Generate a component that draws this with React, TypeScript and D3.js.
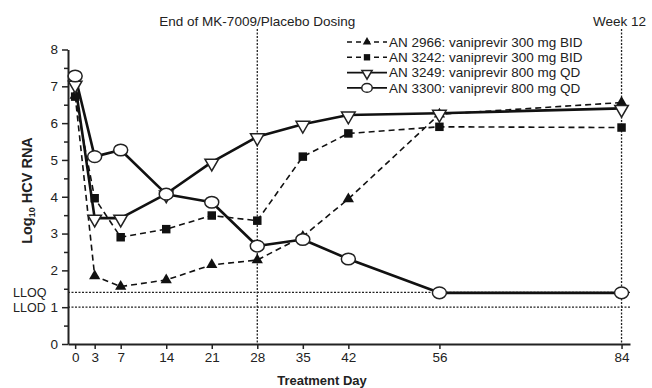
import React, { useEffect, useRef } from "react";
import * as d3 from "d3";

const days = [0, 3, 7, 14, 21, 28, 35, 42, 56, 84];
const an2966 = [6.75, 1.85, 1.56, 1.74, 2.15, 2.28, 2.92, 3.94, 6.24, 6.56];
const an3242 = [6.72, 3.96, 2.9, 3.12, 3.49, 3.35, 5.09, 5.72, 5.9, 5.88];
const an3249 = [7.06, 3.42, 3.42, 4.08, 4.94, 5.63, 5.97, 6.22, 6.27, 6.4];
const an3300 = [7.28, 5.09, 5.27, 4.07, 3.85, 2.66, 2.84, 2.31, 1.39, 1.39];
const seriesNames = [
  "AN 2966: vaniprevir 300 mg BID",
  "AN 3242: vaniprevir 300 mg BID",
  "AN 3249: vaniprevir 800 mg QD",
  "AN 3300: vaniprevir 800 mg QD",
];
const yTicks = [0, 1, 2, 3, 4, 5, 6, 7, 8];
const LLOQ = 1.4;
const LLOD = 1;

const FONT = "'Liberation Sans', Arial, sans-serif";

const App = () => {
  const ref = useRef<SVGSVGElement>(null);

  useEffect(() => {
    const svg = d3.select(ref.current);
    svg.selectAll("*").remove();

    const x = d3.scaleLinear().domain([-1.1, 85.3]).range([68, 630]);
    const y = d3.scaleLinear().domain([0, 8]).range([344, 49.5]);

    // reference lines (dotted)
    const refs = svg.append("g").attr("stroke", "#222").attr("stroke-width", 1.3).attr("stroke-dasharray", "2,1.5");
    [LLOQ, LLOD].forEach((v) => {
      refs.append("line").attr("x1", x.range()[0]).attr("x2", 630).attr("y1", y(v)).attr("y2", y(v));
    });
    [28, 84].forEach((d) => {
      refs.append("line").attr("x1", x(d)).attr("x2", x(d)).attr("y1", 29).attr("y2", y(0));
    });

    // axes
    svg
      .append("g")
      .attr("transform", `translate(${x.range()[0]},0)`)
      .call(d3.axisLeft(y).tickValues(yTicks).tickSize(6).tickPadding(4).tickSizeOuter(0));
    svg
      .append("g")
      .attr("transform", `translate(${x.range()[0]},0)`)
      .call(d3.axisLeft(y).tickValues(d3.range(0.5, 8, 1)).tickSize(4).tickFormat(() => "").tickSizeOuter(0))
      .select(".domain")
      .remove();
    svg
      .append("g")
      .attr("transform", `translate(0,${y(0)})`)
      .call(d3.axisBottom(x).tickValues(days).tickSize(5).tickPadding(3).tickSizeOuter(0));

    svg.selectAll(".domain").attr("stroke", "#222").attr("stroke-width", 2);
    svg.selectAll(".tick line").attr("stroke", "#222").attr("stroke-width", 1.5);
    svg.selectAll(".tick text").attr("font-size", 13.5).attr("font-family", FONT).attr("fill", "#222");

    // LLOQ / LLOD labels
    svg.append("text").attr("x", 13).attr("y", y(LLOQ)).attr("dy", "0.35em").attr("font-size", 12.5).attr("font-family", FONT).attr("fill", "#222").text("LLOQ");
    svg.append("text").attr("x", 13).attr("y", y(LLOD)).attr("dy", "0.35em").attr("font-size", 12.5).attr("font-family", FONT).attr("fill", "#222").text("LLOD");

    // titles
    svg.append("text").attr("x", x(28)).attr("y", 26).attr("text-anchor", "middle").attr("font-size", 13.5).attr("font-family", FONT).attr("fill", "#222").text("End of MK-7009/Placebo Dosing");
    svg.append("text").attr("x", 593).attr("y", 26).attr("font-size", 13.5).attr("font-family", FONT).attr("fill", "#222").text("Week 12");

    // axis labels
    svg.append("text").attr("x", 322).attr("y", 385).attr("text-anchor", "middle").attr("font-size", 13).attr("font-weight", "bold").attr("font-family", FONT).attr("fill", "#222").text("Treatment Day");
    const yl = svg.append("text").attr("transform", "translate(32,190.5) rotate(-90)").attr("text-anchor", "middle").attr("font-size", 14.5).attr("font-weight", "bold").attr("font-family", FONT).attr("fill", "#222");
    yl.append("tspan").text("Log");
    yl.append("tspan").attr("font-size", 9).attr("dy", 3).text("10");
    yl.append("tspan").attr("dy", -3).text(" HCV RNA");

    const line = d3.line<number>().x((_, i) => x(days[i])).y((v) => y(v));

    const series = [
      { vals: an2966, dashed: true, marker: "triUp" },
      { vals: an3242, dashed: true, marker: "square" },
      { vals: an3249, dashed: false, marker: "triDown" },
      { vals: an3300, dashed: false, marker: "circle" },
    ];

    const drawMarker = (g: any, kind: string, cx: number, cy: number, k = 1) => {
      if (kind === "circle") {
        g.append("ellipse").attr("cx", cx).attr("cy", cy).attr("rx", 7 * k).attr("ry", 5.8 * k).attr("fill", "#fff").attr("stroke", "#222").attr("stroke-width", 1.5);
      } else if (kind === "triDown") {
        const p = d3.symbol().type(d3.symbolTriangle).size(80 * k * k);
        g.append("path").attr("d", p()).attr("transform", `translate(${cx},${cy + k}) rotate(180)`).attr("fill", "#fff").attr("stroke", "#222").attr("stroke-width", 1.5);
      } else if (kind === "triUp") {
        const p = d3.symbol().type(d3.symbolTriangle).size(55 * k * k);
        g.append("path").attr("d", p()).attr("transform", `translate(${cx},${cy})`).attr("fill", "#111");
      } else {
        const p = d3.symbol().type(d3.symbolSquare).size(72 * k * k);
        g.append("path").attr("d", p()).attr("transform", `translate(${cx},${cy})`).attr("fill", "#111");
      }
    };

    // lines
    series.forEach((s) => {
      svg
        .append("path")
        .attr("d", line(s.vals))
        .attr("fill", "none")
        .attr("stroke", "#111")
        .attr("stroke-width", s.dashed ? 1.6 : 2.6)
        .attr("stroke-dasharray", s.dashed ? "6,4" : null)
        .attr("stroke-linejoin", "round");
    });
    // markers
    [series[1], series[0], series[2], series[3]].forEach((s) => {
      const g = svg.append("g");
      s.vals.forEach((v, i) => drawMarker(g, s.marker, x(days[i]), y(v)));
    });

    // legend
    const lg = svg.append("g").attr("transform", "translate(347,42)");
    series.forEach((s, i) => {
      const ly = i * 15.3;
      lg.append("line").attr("x1", 0).attr("x2", 40).attr("y1", ly).attr("y2", ly)
        .attr("stroke", "#111").attr("stroke-width", s.dashed ? 1.6 : 1.8)
        .attr("stroke-dasharray", s.dashed ? "5,4" : null);
      drawMarker(lg, s.marker, 20, ly, 0.75);
      lg.append("text").attr("x", 42).attr("y", ly).attr("dy", "0.36em").attr("font-size", 13.5).attr("font-family", FONT).attr("fill", "#222").text(seriesNames[i]);
    });
  }, []);

  return (
    <svg ref={ref} width={652} height={388} style={{ position: "absolute", left: 0, top: 0, background: "#fff" }} />
  );
};

export default App;
